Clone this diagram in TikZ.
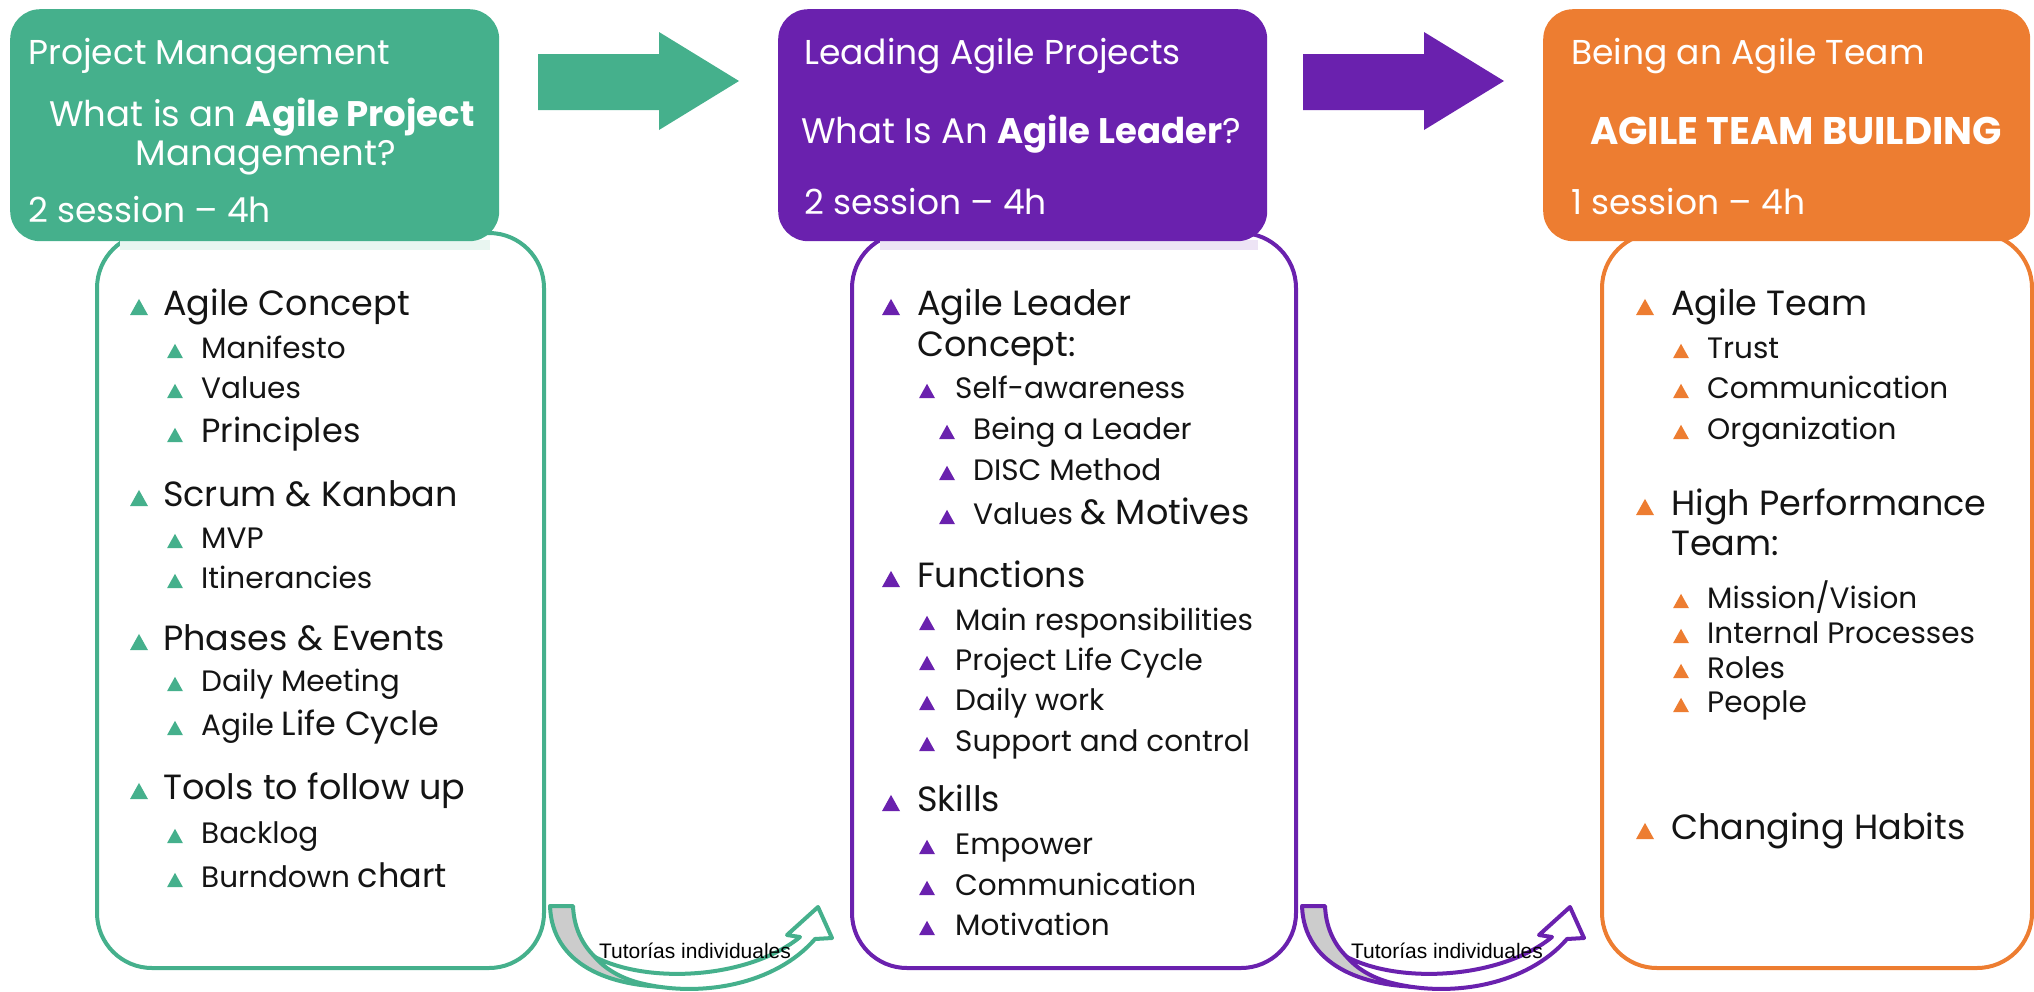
\documentclass[tikz,border=0pt]{standalone}
\usepackage{fontspec}
\setmainfont{Poppins}
\newfontfamily\arialfont{Liberation Sans}
\usetikzlibrary{positioning}

\definecolor{gcol}{RGB}{69,176,140}
\definecolor{pcol}{RGB}{106,33,174}
\definecolor{ocol}{RGB}{237,125,49}
\definecolor{tailgray}{RGB}{204,204,204}
\definecolor{ink}{RGB}{20,20,20}

% bigger words inside an item
\newcommand{\upsz}{\fontsize{33.5}{38}\selectfont}
% triangle bullet: colour, x, y, width
\newcommand{\bul}[4]{\fill[#1] ({#2-#4/2},{#3-0.45*#4}) -- ({#2+#4/2},{#3-0.45*#4}) -- (#2,{#3+0.45*#4}) -- cycle;}

\tikzset{
  hdrbox/.style={rounded corners=30pt, inner sep=0pt, anchor=north west},
  listbox/.style={draw, fill=white, line width=4pt, rounded corners=55pt, inner sep=0pt, anchor=north west},
  htxt/.style={text=white, font=\fontsize{34.5}{40}\selectfont, inner sep=0pt, text height=24pt, text depth=0pt},
  lvA/.style={text=ink, font=\fontsize{35}{40}\selectfont, inner sep=0pt, anchor=west, text height=25pt, text depth=0pt},
  lvB/.style={text=ink, font=\fontsize{29.5}{34}\selectfont, inner sep=0pt, anchor=west, text height=21pt, text depth=0pt},
  tut/.style={text=black, font=\arialfont\fontsize{21}{24}\selectfont, inner sep=0pt},
}

\begin{document}
\begin{tikzpicture}[x=1pt,y=1pt]
\useasboundingbox (0,0) rectangle (2034,-991);

% list boxes (under the headers)
\node[listbox, draw=gcol, minimum width=447pt, minimum height=735pt] (pmBox) at (95,-231) {};
\node[listbox, draw=pcol, minimum width=444pt, minimum height=735pt] (laBox) at (850,-231) {};
\node[listbox, draw=ocol, minimum width=430pt, minimum height=735pt] (atBox) at (1600,-231) {};
\fill[gcol!12] (120,-240) rectangle (490,-250);
\fill[pcol!12] (880,-240) rectangle (1258,-250);

% headers
\node[hdrbox, fill=gcol, minimum width=489pt, minimum height=232pt] (pmHead) at (10,-9) {};
\node[hdrbox, fill=pcol, minimum width=489pt, minimum height=232pt] (laHead) at (778,-9) {};
\node[hdrbox, fill=ocol, minimum width=487pt, minimum height=232pt] (atHead) at (1543,-9) {};

\node[htxt, anchor=west] (pmT) at (28,-52) {Project Management};
\node[htxt, font=\fontsize{35.5}{40}\selectfont] (pmQa) at (262,-114) {What is an \textbf{Agile Project}};
\node[htxt, font=\fontsize{35.5}{40}\selectfont] (pmQb) at (266,-153) {Management?};
\node[htxt, anchor=west] (pmS) at (28,-210) {2 session – 4h};

\node[htxt, anchor=west] (laT) at (804,-52) {Leading Agile Projects};
\node[htxt, font=\fontsize{35.5}{40}\selectfont] (laQ) at (1021,-131) {What Is An \textbf{Agile Leader}?};
\node[htxt, anchor=west] (laS) at (804,-202) {2 session – 4h};

\node[htxt, anchor=west] (atT) at (1571,-52) {Being an Agile Team};
\node[htxt, font=\fontsize{38.5}{44}\selectfont, text height=27pt] (atQ) at (1796,-131) {\textbf{AGILE TEAM BUILDING}};
\node[htxt, anchor=west] (atS) at (1571,-202) {1 session – 4h};

% block arrows
\fill[gcol] (538,-54) -- (659,-54) -- (659,-32) -- (739,-81) -- (659,-130) -- (659,-110) -- (538,-110) -- cycle;
\fill[pcol] (1303,-54) -- (1424,-54) -- (1424,-32) -- (1504,-81) -- (1424,-130) -- (1424,-110) -- (1303,-110) -- cycle;

% green list
\bul{gcol}{139}{-307}{18} \node[lvA] (g1) at (163,-303) {Agile Concept};
\bul{gcol}{175}{-351}{16} \node[lvB] (g2) at (201,-348) {Manifesto};
\bul{gcol}{175}{-391}{16} \node[lvB] (g3) at (201,-388) {Values};
\bul{gcol}{175}{-435}{16} \node[lvB, font=\upsz] (g4) at (201,-432) {Principles};
\bul{gcol}{139}{-498}{18} \node[lvA] (g5) at (163,-494) {Scrum \& Kanban};
\bul{gcol}{175}{-541}{16} \node[lvB] (g6) at (201,-538) {MVP};
\bul{gcol}{175}{-581}{16} \node[lvB] (g7) at (201,-578) {Itinerancies};
\bul{gcol}{139}{-642}{18} \node[lvA] (g8) at (163,-638) {Phases \& Events};
\bul{gcol}{175}{-684}{16} \node[lvB] (g9) at (201,-681) {Daily Meeting};
\bul{gcol}{175}{-728}{16} \node[lvB] (g10) at (201,-725) {Agile {\upsz Life Cycle}};
\bul{gcol}{139}{-791}{18} \node[lvA] (g11) at (163,-787) {Tools to follow up};
\bul{gcol}{175}{-836}{16} \node[lvB] (g12) at (201,-833) {Backlog};
\bul{gcol}{175}{-880}{16} \node[lvB] (g13) at (201,-877) {Burndown {\upsz chart}};

% purple list
\bul{pcol}{891}{-307}{18} \node[lvA] (p1) at (917,-303) {Agile Leader};
\node[lvA] (p1b) at (917,-344) {Concept:};
\bul{pcol}{927}{-391}{16} \node[lvB] (p2) at (955,-388) {Self-awareness};
\bul{pcol}{947}{-432}{16} \node[lvB] (p3) at (973,-429) {Being a Leader};
\bul{pcol}{947}{-473}{16} \node[lvB] (p4) at (973,-470) {DISC Method};
\bul{pcol}{947}{-517}{16} \node[lvB] (p5) at (973,-514) {Values {\fontsize{35}{40}\selectfont\& Motives}};
\bul{pcol}{891}{-579}{18} \node[lvA] (p6) at (917,-575) {Functions};
\bul{pcol}{927}{-623}{16} \node[lvB] (p7) at (955,-620) {Main responsibilities};
\bul{pcol}{927}{-663}{16} \node[lvB] (p8) at (955,-660) {Project Life Cycle};
\bul{pcol}{927}{-703}{16} \node[lvB] (p9) at (955,-700) {Daily work};
\bul{pcol}{927}{-744}{16} \node[lvB] (p10) at (955,-741) {Support and control};
\bul{pcol}{891}{-803}{18} \node[lvA] (p11) at (917,-799) {Skills};
\bul{pcol}{927}{-847}{16} \node[lvB] (p12) at (955,-844) {Empower};
\bul{pcol}{927}{-888}{16} \node[lvB] (p13) at (955,-885) {Communication};
\bul{pcol}{927}{-928}{16} \node[lvB] (p14) at (955,-925) {Motivation};

% orange list
\bul{ocol}{1645}{-307}{18} \node[lvA] (o1) at (1671,-303) {Agile Team};
\bul{ocol}{1681}{-351}{16} \node[lvB] (o2) at (1707,-348) {Trust};
\bul{ocol}{1681}{-391}{16} \node[lvB] (o3) at (1707,-388) {Communication};
\bul{ocol}{1681}{-432}{16} \node[lvB] (o4) at (1707,-429) {Organization};
\bul{ocol}{1645}{-507}{18} \node[lvA] (o5) at (1671,-503) {High Performance};
\node[lvA] (o5b) at (1671,-543) {Team:};
\bul{ocol}{1681}{-601}{16} \node[lvB] (o6) at (1707,-598) {Mission/Vision};
\bul{ocol}{1681}{-636}{16} \node[lvB] (o7) at (1707,-633) {Internal Processes};
\bul{ocol}{1681}{-671}{16} \node[lvB] (o8) at (1707,-668) {Roles};
\bul{ocol}{1681}{-705}{16} \node[lvB] (o9) at (1707,-702) {People};
\bul{ocol}{1645}{-831}{18} \node[lvA] (o10) at (1671,-827) {Changing Habits};

% curved arrows under the boxes
\filldraw[fill=tailgray, draw=gcol, line width=4pt, line join=round]
  (550,-906) -- (573,-906) .. controls (575,-955) and (615,-982) .. (672,-987)
  .. controls (610,-987) and (552,-965) .. (550,-906) -- cycle;
\filldraw[fill=white, draw=gcol, line width=4pt, line join=round]
  (595,-957) .. controls (650,-985) and (750,-978) .. (800,-937) -- (787,-935) -- (818,-907)
  -- (832,-938) -- (815,-939) .. controls (775,-985) and (700,-998) .. (640,-983)
  .. controls (620,-978) and (604,-968) .. (595,-957) -- cycle;
\node[tut] (tutA) at (695,-951) {Tutorías individuales};

\begin{scope}[xshift=752]
\filldraw[fill=tailgray, draw=pcol, line width=4pt, line join=round]
  (550,-906) -- (573,-906) .. controls (575,-955) and (615,-982) .. (672,-987)
  .. controls (610,-987) and (552,-965) .. (550,-906) -- cycle;
\filldraw[fill=white, draw=pcol, line width=4pt, line join=round]
  (595,-957) .. controls (650,-985) and (750,-978) .. (800,-937) -- (787,-935) -- (818,-907)
  -- (832,-938) -- (815,-939) .. controls (775,-985) and (700,-998) .. (640,-983)
  .. controls (620,-978) and (604,-968) .. (595,-957) -- cycle;
\node[tut] (tutB) at (695,-951) {Tutorías individuales};
\end{scope}
\end{tikzpicture}
\end{document}
